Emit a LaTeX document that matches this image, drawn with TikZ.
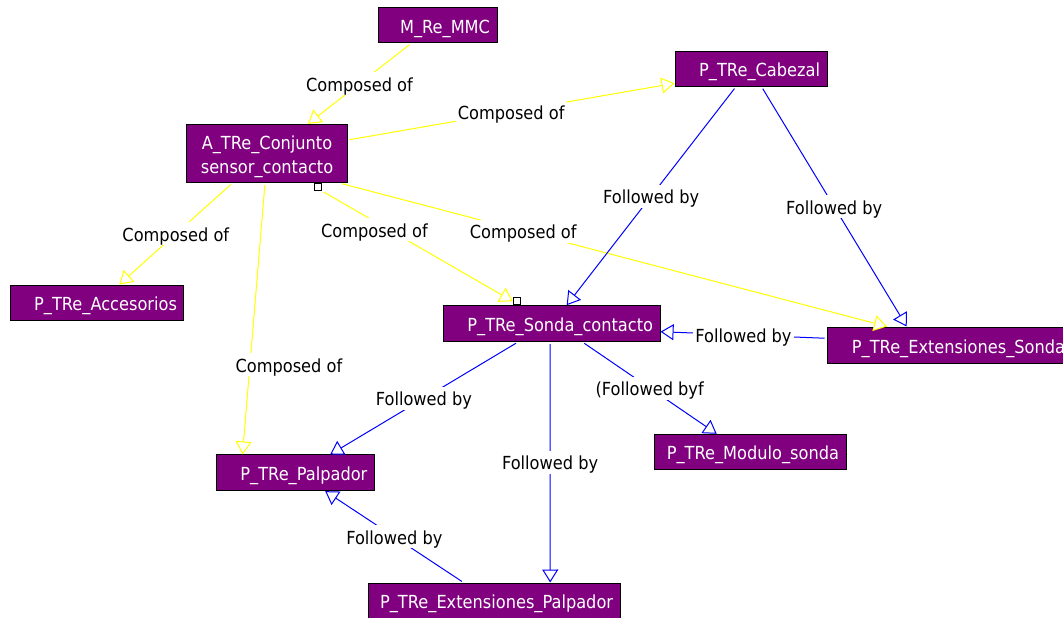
\documentclass[tikz,border=0pt]{standalone}
\usepackage{fontspec}
\setmainfont{DejaVu Sans}[FakeStretch=0.9]
\usetikzlibrary{arrows.meta}
\definecolor{boxpurple}{HTML}{800080}
\definecolor{complink}{HTML}{FFFF00}
\definecolor{folllink}{HTML}{0000FF}
\newcommand{\diagfont}{\fontsize{18}{24}\selectfont}
\tikzset{
  box/.style={draw=black, line width=1pt, fill=boxpurple, text=white,
    minimum height=35pt, inner xsep=7pt, inner ysep=0pt, align=right,
    text height=20pt, text depth=4pt, font=\diagfont},
  handle/.style={draw=black, fill=white, line width=0.8pt, minimum size=7pt,
    inner sep=0pt, rectangle},
  link/.style={line width=1pt, shorten <=2pt,
    -{Triangle[open, length=13pt, width=16pt, fill=white, line width=1pt]}},
  comp/.style={link, draw=complink},
  foll/.style={link, draw=folllink},
  lbl/.style={fill=white, text=black, inner sep=2pt, text height=17pt,
    text depth=2pt, font=\diagfont}
}
\begin{document}
\begin{tikzpicture}[x=1pt, y=-1pt]
\useasboundingbox[fill=white] (0,0) rectangle (1063,618);

% element boxes
\node[box, text width=105pt] (mmc) at (437.5,25.5) {M\_Re\_MMC};
\node[box, text width=138pt] (cab) at (751,69) {P\_TRe\_Cabezal};
\node[box, text width=146.6pt, align=center, minimum height=58.4pt,
  text height=16pt, text depth=24pt] (conj) at (267,153.5)
  {A\_TRe\_Conjunto\\sensor\_contacto};
\node[box, text width=159.3pt] (acc) at (97.3,302.5) {P\_TRe\_Accesorios};
\node[box, text width=202.7pt, minimum height=36pt] (son) at (551.7,323.7) {P\_TRe\_Sonda\_contacto};
\node[box, text width=231pt, minimum height=36pt] (exs) at (949.5,345) {P\_TRe\_Extensiones\_Sonda};
\node[box, text width=178pt] (mod) at (750,451.8) {P\_TRe\_Modulo\_sonda};
\node[box, text width=144.3pt, minimum height=35.7pt] (pal) at (295.2,472.8) {P\_TRe\_Palpador};
\node[box, text width=237.7pt] (exp) at (494.2,600.5) {P\_TRe\_Extensiones\_Palpador};

% selection handles on the link to the probe
\node[handle, anchor=north] (hA) at ([xshift=51pt]conj.south) {};
\node[handle, anchor=south] (hB) at ([xshift=-35pt]son.north) {};

% "Composed of" links
\draw[comp] ([xshift=-26.5pt]mmc.south) -- ([xshift=41pt]conj.north)
  node[lbl, pos=0.5] {Composed of};
\draw[comp] ([yshift=13.5pt]conj.east) -- ([yshift=-14.3pt]cab.west)
  node[lbl, pos=0.5] {Composed of};
\draw[comp] ([xshift=-34.7pt]conj.south) -- ([xshift=22pt]acc.north)
  node[lbl, pos=0.5] {Composed of};
\draw[comp] ([xshift=-2pt]conj.south) -- ([xshift=-52.7pt]pal.north)
  node[lbl, pos=0.67, xshift=39pt] {Composed of};
\draw[comp] (hA.south east) -- (hB.west)
  node[lbl, pos=0.275, yshift=-8.5pt] {Composed of};
\draw[comp] ([xshift=73pt]conj.south) -- ([xshift=-62.5pt]exs.north)
  node[lbl, pos=0.335] {Composed of};

% "Followed by" links
\draw[foll] ([xshift=-15.3pt]cab.south) -- ([xshift=15pt]son.north)
  node[lbl, pos=0.5] {Followed by};
\draw[foll] ([xshift=10.7pt]cab.south) -- ([xshift=-42.8pt]exs.north)
  node[lbl, pos=0.5] {Followed by};
\draw[foll] ([yshift=6.7pt]exs.west) -- ([yshift=-8pt]son.east)
  node[lbl, pos=0.5] {Followed by};
\draw[foll] ([xshift=-34pt]son.south) -- ([xshift=35pt]pal.north)
  node[lbl, pos=0.5] {Followed by};
\draw[foll] ([xshift=-1.7pt]son.south) -- ([xshift=56pt]exp.north)
  node[lbl, pos=0.5] {Followed by};
\draw[foll] ([xshift=31pt]son.south) -- ([xshift=-33.3pt]mod.north)
  node[lbl, pos=0.5] {(Followed byf};
\draw[foll] ([xshift=-30.7pt]exp.north) -- ([xshift=30pt]pal.south)
  node[lbl, pos=0.5] {Followed by};
\end{tikzpicture}
\end{document}
